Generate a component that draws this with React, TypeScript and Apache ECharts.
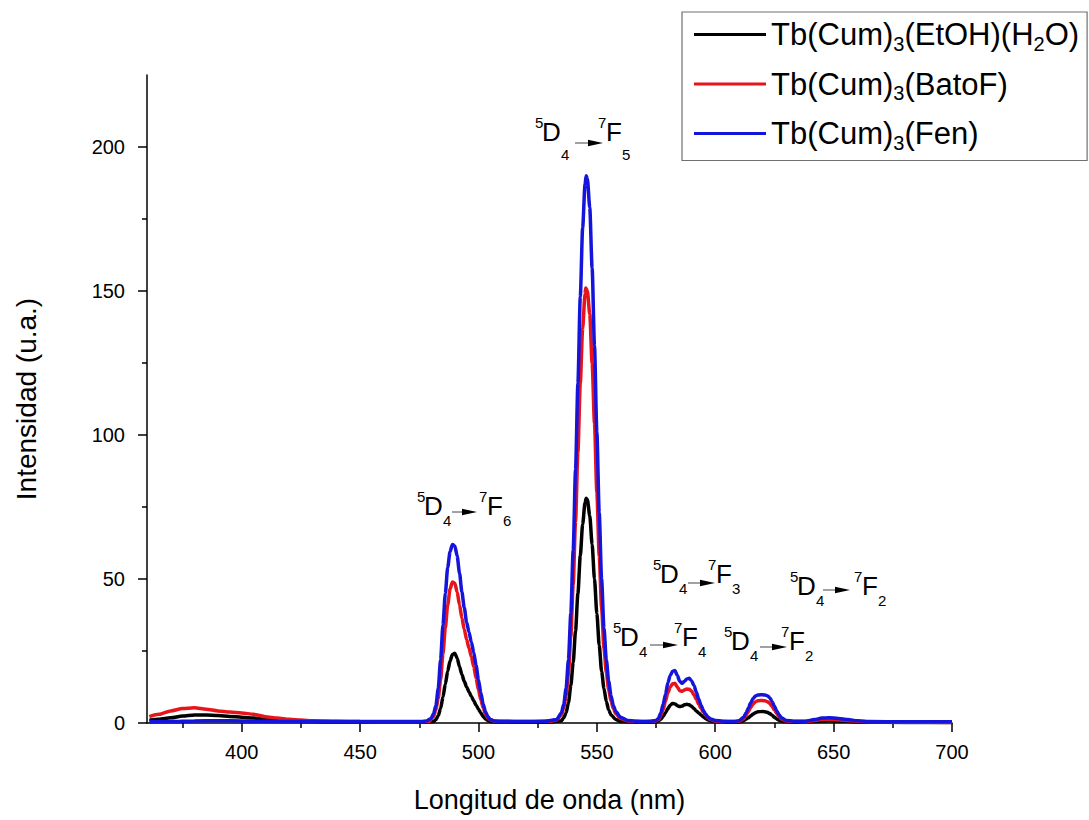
import React, { useEffect, useRef } from "react";
import * as echarts from "echarts";

const FONT = "Arial, 'Liberation Sans', Helvetica, sans-serif";

const seriesNames = ["Tb(Cum)3(EtOH)(H2O)", "Tb(Cum)3(BatoF)", "Tb(Cum)3(Fen)"];
const seriesColors = ["#000000", "#e8141c", "#1414dc"];

const xLabelTicks = [400, 450, 500, 550, 600, 650, 700];
const xMinorTicks = [375, 425, 475, 525, 575, 625, 675];
const yLabelTicks = [0, 50, 100, 150, 200];
const yMinorTicks = [25, 75, 125, 175];

// Tb(Cum)3(EtOH)(H2O)
const etohH2O: [number, number][] = [
  [361, 1.0], [365, 1.3], [370, 1.8], [375, 2.4], [380, 2.8], [385, 2.8], [390, 2.6], [395, 2.3], [400, 2.0], [405, 1.7],
  [410, 1.3], [415, 1.0], [420, 0.7], [430, 0.5], [440, 0.4], [460, 0.3], [478, 0.3], [481, 0.5], [482, 1.2], [483, 2.5],
  [484, 5], [485, 9], [486, 13.5], [487, 18], [488, 21.5], [489, 23.8], [490, 24.2], [491, 22.5], [492, 19.5], [493, 16.8],
  [494, 14.5], [495, 12.5], [496, 10.8], [497, 9.2], [498, 7.7], [499, 6.2], [500, 4.8], [501, 3.5], [502, 2.3], [503, 1.4],
  [504, 0.8], [506, 0.4], [515, 0.3], [530, 0.3], [535, 0.8], [536, 1.8], [537, 3.5], [538, 7], [539, 13], [540, 21],
  [541, 32], [542, 45], [543, 58], [544, 69], [545, 76.5], [545.5, 78], [546, 77.5], [547, 72], [548, 62], [549, 50],
  [550, 38], [551, 27], [552, 18], [553, 12], [554, 7.5], [555, 4.5], [556, 2.8], [558, 1.2], [560, 0.5], [570, 0.3],
  [575, 0.4], [576, 0.7], [577, 1.3], [578, 2.3], [579, 3.6], [580, 5], [581, 6.2], [582, 6.8], [583, 6.6], [584, 6],
  [585, 5.7], [586, 5.9], [587, 6.3], [588, 6.5], [589, 6.3], [590, 5.8], [591, 5], [592, 4.2], [593, 3.5], [594, 2.8],
  [595, 2.1], [596, 1.5], [597, 1], [599, 0.5], [605, 0.3], [610, 0.3], [612, 0.8], [614, 1.8], [615, 2.5], [616, 3.1],
  [617, 3.6], [618, 3.9], [620, 4], [621, 3.9], [622, 3.7], [623, 3.3], [624, 2.7], [625, 2], [626, 1.4], [627, 0.9],
  [629, 0.5], [633, 0.3], [642, 0.5], [648, 0.8], [655, 0.6], [662, 0.3], [680, 0.2], [700, 0.2],
];

// Tb(Cum)3(BatoF)
const batoF: [number, number][] = [
  [361, 2.2], [365, 3], [370, 4.2], [375, 5], [380, 5.3], [385, 4.8], [390, 4.2], [395, 3.8], [400, 3.5], [405, 3.0],
  [410, 2.2], [415, 1.7], [420, 1.3], [425, 1.0], [430, 0.8], [440, 0.6], [450, 0.5], [465, 0.4], [479, 0.5], [481, 2.2],
  [482, 4.5], [483, 8.5], [484, 15], [485, 24], [486, 33], [487, 41], [488, 46.5], [489, 49], [490, 48.5], [491, 45.5],
  [492, 41], [493, 36.5], [494, 32.5], [495, 29], [496, 26], [497, 23], [498, 19.5], [499, 15.5], [500, 11.5], [501, 8],
  [502, 5.2], [503, 3], [504, 1.8], [505, 1.1], [507, 0.6], [515, 0.5], [530, 0.6], [533, 1], [535, 2.8], [536, 5],
  [537, 9.5], [538, 17], [539, 30], [540, 48], [541, 70], [542, 94], [543, 118], [544, 137], [545, 149], [545.3, 151],
  [546, 150], [547, 142], [548, 125], [549, 104], [550, 80], [551, 58], [552, 40], [553, 26], [554, 17.5], [555, 11.5],
  [556, 7.5], [557, 5], [558, 3.2], [560, 1.6], [563, 0.7], [570, 0.5], [575, 0.7], [576, 1.2], [577, 2.5], [578, 4.7],
  [579, 7.6], [580, 10.5], [581, 12.5], [582, 13.6], [583, 13.8], [584, 12.5], [585, 11.2], [586, 11], [587, 11.5], [588, 11.8],
  [589, 11.7], [590, 11.1], [591, 9.8], [592, 8.2], [593, 6.5], [594, 5], [595, 3.7], [596, 2.6], [597, 1.8], [598, 1.2],
  [600, 0.7], [603, 0.5], [608, 0.5], [610, 0.6], [612, 1.5], [613, 2.7], [614, 4], [615, 5.4], [616, 6.6], [617, 7.4],
  [618, 7.7], [619, 7.8], [620, 7.8], [621, 7.7], [622, 7.4], [623, 6.8], [624, 5.8], [625, 4.5], [626, 3.3], [627, 2.2],
  [628, 1.4], [630, 0.7], [633, 0.5], [638, 0.5], [642, 0.9], [646, 1.3], [650, 1.2], [655, 0.9], [660, 0.6], [665, 0.4],
  [680, 0.3], [700, 0.2],
];

// Tb(Cum)3(Fen)
const fen: [number, number][] = [
  [361, 0.4], [370, 0.5], [380, 0.7], [390, 0.8], [400, 0.7], [410, 0.6], [420, 0.5], [440, 0.5], [460, 0.5], [476, 0.5],
  [478, 0.7], [480, 1.6], [481, 3.2], [482, 6], [483, 12], [484, 22], [485, 34], [486, 45], [487, 54], [488, 59.5],
  [489, 62], [490, 61.5], [491, 58], [492, 52], [493, 45.5], [494, 40], [495, 35], [496, 31.5], [497, 28], [498, 24.5],
  [499, 20], [500, 15], [501, 10.5], [502, 6.5], [503, 3.8], [504, 2.2], [505, 1.2], [507, 0.7], [510, 0.6], [520, 0.5],
  [528, 0.6], [533, 1.2], [535, 3.5], [536, 6.5], [537, 12], [538, 22], [539, 38], [540, 60], [541, 88], [542, 118],
  [543, 148], [544, 172], [545, 187], [545.5, 190], [546, 189], [547, 179], [548, 158], [549, 131], [550, 101], [551, 73],
  [552, 50], [553, 33], [554, 22], [555, 14.5], [556, 9.5], [557, 6], [558, 4], [560, 2], [563, 0.9], [566, 0.6],
  [572, 0.5], [575, 0.9], [576, 1.6], [577, 3.5], [578, 6.5], [579, 10], [580, 14], [581, 16.5], [582, 18], [583, 18.2],
  [584, 16.5], [585, 14.5], [586, 13.8], [587, 14.5], [588, 15.3], [589, 15.5], [590, 14.7], [591, 13], [592, 10.8], [593, 8.3],
  [594, 6.2], [595, 4.3], [596, 3], [597, 2], [598, 1.4], [600, 0.9], [603, 0.6], [608, 0.5], [610, 0.8], [612, 2],
  [613, 3.5], [614, 5.2], [615, 7], [616, 8.5], [617, 9.4], [618, 9.7], [619, 9.8], [620, 9.8], [621, 9.7], [622, 9.5],
  [623, 8.8], [624, 7.5], [625, 5.8], [626, 4.2], [627, 2.8], [628, 1.8], [630, 0.9], [633, 0.6], [638, 0.6], [642, 1.2],
  [645, 1.7], [648, 1.8], [652, 1.6], [656, 1.2], [660, 0.8], [665, 0.5], [680, 0.4], [700, 0.4],
];

const seriesData = [etohH2O, batoF, fen];

// transition labels: 5D4 -> 7Fn
const transitionTargets = ["6", "5", "3", "2", "4", "2"];
// pixel layout of each label (D left, D top, F left, arrow start/end/y, subscript offset)
const transitionLayout = [
  { xD: 425, t: 497, xF: 488, a0: 452, a1: 477, ay: 512, subDy: 23 },
  { xD: 543, t: 123, xF: 607, a0: 575, a1: 603, ay: 143, subDy: 31 },
  { xD: 661, t: 565, xF: 717, a0: 688, a1: 715, ay: 583, subDy: 23 },
  { xD: 798, t: 577, xF: 863, a0: 823, a1: 850, ay: 590, subDy: 23 },
  { xD: 621, t: 628, xF: 683, a0: 650, a1: 678, ay: 645, subDy: 23 },
  { xD: 732, t: 632, xF: 790, a0: 760, a1: 787, ay: 647, subDy: 23 },
];

function txt(x: number, y: number, s: string, size: number) {
  return {
    type: "text",
    x,
    y,
    silent: true,
    style: {
      text: s,
      fontSize: size,
      fontFamily: FONT,
      fill: "#000",
      textAlign: "left",
      textVerticalAlign: "middle",
      align: "left",
      verticalAlign: "middle",
    },
  };
}

function transitionElements() {
  const els: any[] = [];
  transitionTargets.forEach((n, i) => {
    const L = transitionLayout[i];
    els.push(txt(L.xD - 8, L.t - 1, "5", 15));
    els.push(txt(L.xD - 1, L.t + 9, "D", 26));
    els.push(txt(L.xD + 18, L.t + L.subDy, "4", 15));
    els.push({
      type: "line",
      silent: true,
      shape: { x1: L.a0, y1: L.ay, x2: L.a1 - 12, y2: L.ay },
      style: { stroke: "#444", lineWidth: 1 },
    });
    els.push({
      type: "polygon",
      silent: true,
      shape: { points: [[L.a1 - 15, L.ay - 3.2], [L.a1, L.ay], [L.a1 - 15, L.ay + 3.2]] },
      style: { fill: "#000" },
    });
    els.push(txt(L.xF - 9, L.t - 1, "7", 15));
    els.push(txt(L.xF - 1, L.t + 9, "F", 26));
    els.push(txt(L.xF + 15, L.t + L.subDy, n, 15));
  });
  return els;
}

function legendFormatter(name: string) {
  return name
    .split(/(\d)/)
    .map((part, i) => (part === "" ? "" : i % 2 === 1 ? `{s|${part}}` : `{a|${part}}`))
    .join("");
}

export default function App() {
  const ref = useRef<HTMLDivElement>(null);
  useEffect(() => {
    if (!ref.current) return;
    const chart = echarts.init(ref.current, undefined, { renderer: "svg" });
    const axisLineStyle = { color: "#000", width: 1.5 };
    chart.setOption({
      animation: false,
      backgroundColor: "#fff",
      grid: { left: 147, right: 137, top: 75, bottom: 97, containLabel: false },
      legend: {
        orient: "vertical",
        left: 682,
        top: 12,
        padding: [7, 8, 8, 12],
        itemGap: 15,
        itemWidth: 72,
        itemHeight: 3,
        icon: "rect",
        borderColor: "#707070",
        borderWidth: 1.2,
        selectedMode: false,
        data: seriesNames,
        formatter: legendFormatter,
        textStyle: {
          fontFamily: FONT,
          fontSize: 31,
          color: "#000",
          rich: {
            a: { fontFamily: FONT, fontSize: 31, lineHeight: 38, color: "#000" },
            s: { fontFamily: FONT, fontSize: 20, lineHeight: 10, verticalAlign: "bottom", color: "#000" },
          },
        },
      },
      xAxis: [
        {
          type: "value",
          min: 360,
          max: 700,
          position: "bottom",
          axisLine: { show: true, lineStyle: axisLineStyle },
          axisTick: { show: true, length: 9, customValues: xLabelTicks, lineStyle: axisLineStyle },
          axisLabel: { customValues: xLabelTicks, fontSize: 20, fontFamily: FONT, color: "#000", margin: 19 },
          splitLine: { show: false },
          name: "Longitud de onda (nm)",
          nameLocation: "middle",
          nameGap: 63,
          nameTextStyle: { fontSize: 27, fontFamily: FONT, color: "#000" },
        },
        {
          type: "value",
          min: 360,
          max: 700,
          position: "bottom",
          axisLine: { show: false },
          axisTick: { show: true, length: 5, customValues: xMinorTicks, lineStyle: axisLineStyle },
          axisLabel: { show: false },
          splitLine: { show: false },
        },
      ],
      yAxis: [
        {
          type: "value",
          min: 0,
          max: 225,
          position: "left",
          axisLine: { show: true, lineStyle: axisLineStyle },
          axisTick: { show: true, length: 9, customValues: yLabelTicks, lineStyle: axisLineStyle },
          axisLabel: { customValues: yLabelTicks, fontSize: 20, fontFamily: FONT, color: "#000", margin: 22 },
          splitLine: { show: false },
          name: "Intensidad (u.a.)",
          nameLocation: "middle",
          nameGap: 107,
          nameTextStyle: { fontSize: 28, fontFamily: FONT, color: "#000" },
        },
        {
          type: "value",
          min: 0,
          max: 225,
          position: "left",
          axisLine: { show: false },
          axisTick: { show: true, length: 5, customValues: yMinorTicks, lineStyle: axisLineStyle },
          axisLabel: { show: false },
          splitLine: { show: false },
        },
      ],
      series: seriesNames.map((name, i) => ({
        name,
        type: "line",
        xAxisIndex: 0,
        yAxisIndex: 0,
        data: seriesData[i],
        symbol: "none",
        showSymbol: false,
        smooth: 0.25,
        smoothMonotone: "x",
        color: seriesColors[i],
        lineStyle: { color: seriesColors[i], width: 3.5 },
      })),
      graphic: { elements: transitionElements() },
    });
    return () => chart.dispose();
  }, []);
  return (
    <div
      ref={ref}
      style={{ position: "fixed", left: 0, top: 0, width: 1089, height: 820, background: "#fff" }}
    />
  );
}
